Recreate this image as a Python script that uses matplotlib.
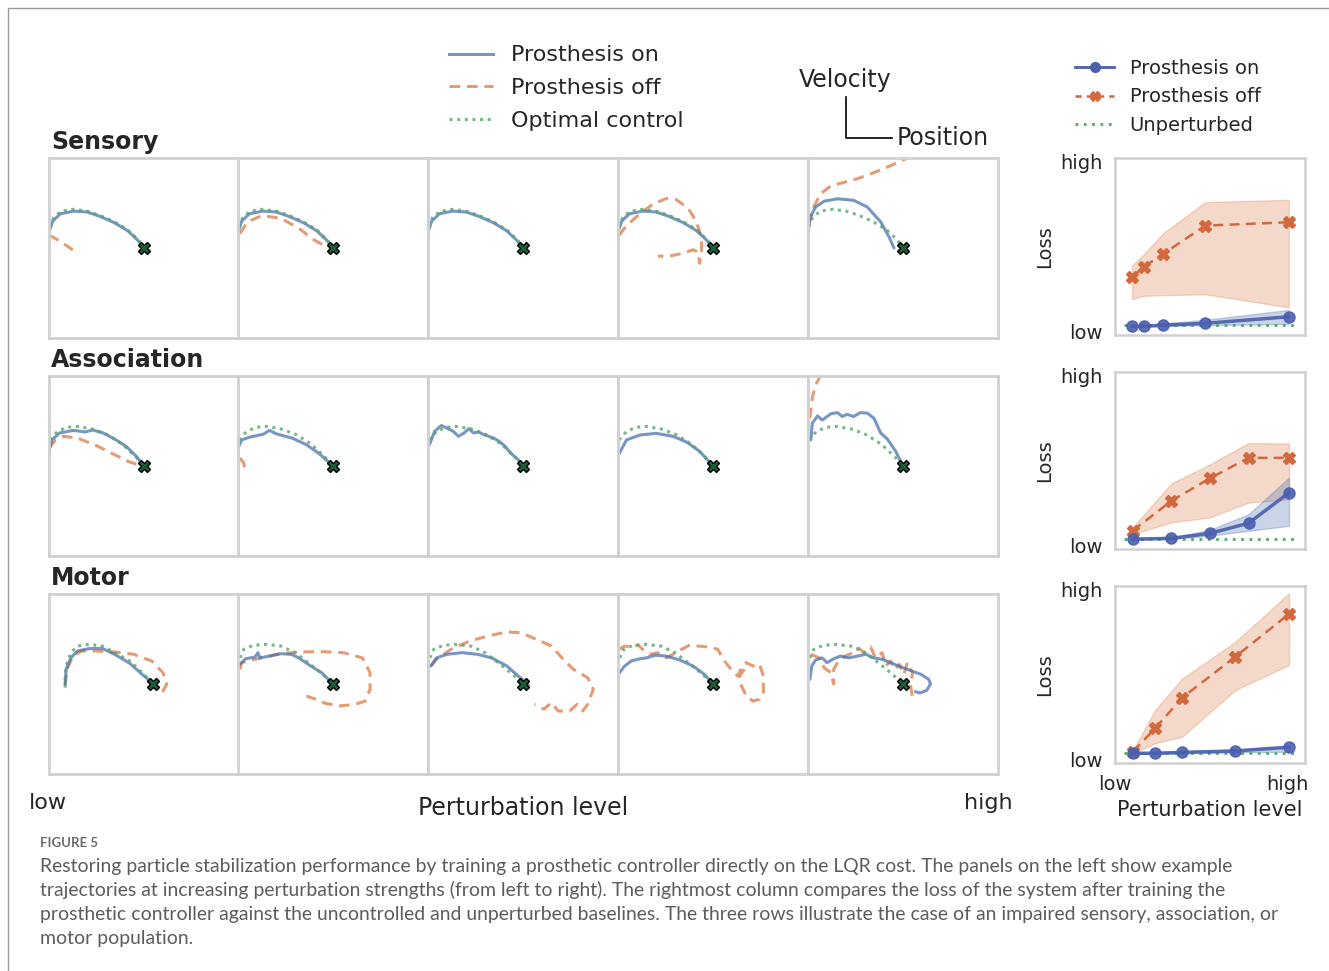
import matplotlib
matplotlib.use("Agg")
import matplotlib.pyplot as plt
from matplotlib.lines import Line2D

W, H, DPI = 1329, 971, 100

BLUE = "#4C72B0"
ORANGE = "#DD8452"
GREEN = "#55A868"
FRAME = "#d0d0d0"
INK = "#262626"

row_names = ["Sensory", "Association", "Motor"]

# ---- left panels: trajectories as (position, velocity), target marked with an X
sens_opt = [(-0.99, 0.23), (-0.95, 0.34), (-0.87, 0.41), (-0.74, 0.43), (-0.60, 0.41),
            (-0.46, 0.36), (-0.31, 0.29), (-0.17, 0.20), (-0.06, 0.09), (0.0, 0.0)]
sens_on = [(-1.00, 0.18), (-0.96, 0.30), (-0.88, 0.38), (-0.74, 0.41), (-0.60, 0.40),
           (-0.46, 0.35), (-0.31, 0.28), (-0.17, 0.19), (-0.06, 0.08), (0.0, 0.0)]
sens_on_5 = [(-0.99, 0.26), (-0.98, 0.34), (-0.92, 0.455), (-0.83, 0.52), (-0.69, 0.547),
             (-0.52, 0.53), (-0.375, 0.455), (-0.235, 0.29), (-0.147, 0.123), (-0.095, 0.0)]
sens_off_1 = [(-1.0, 0.14), (-0.93, 0.105), (-0.85, 0.05), (-0.75, -0.02)]
sens_off_2 = [(-0.98, 0.16), (-0.90, 0.29), (-0.75, 0.36), (-0.55, 0.33), (-0.36, 0.22),
              (-0.20, 0.09), (-0.08, 0.02), (0.0, 0.0)]
sens_off_4 = [(-0.99, 0.14), (-0.91, 0.25), (-0.77, 0.38), (-0.63, 0.49), (-0.49, 0.55),
              (-0.39, 0.54), (-0.26, 0.44), (-0.175, 0.29), (-0.12, 0.12), (-0.12, -0.02),
              (-0.14, -0.17), (-0.16, -0.04), (-0.21, -0.02), (-0.32, -0.06), (-0.46, -0.09),
              (-0.58, -0.09)]
sens_off_5 = [(-0.99, 0.26), (-0.94, 0.455), (-0.87, 0.60), (-0.76, 0.69), (-0.62, 0.73),
              (-0.48, 0.77), (-0.30, 0.84), (-0.13, 0.915), (0.045, 1.0), (0.19, 1.08)]

assoc_opt = [(-0.99, 0.29), (-0.91, 0.385), (-0.81, 0.43), (-0.70, 0.44), (-0.54, 0.41),
             (-0.39, 0.35), (-0.23, 0.244), (-0.09, 0.107), (0.0, 0.0)]
assoc_on_1 = [(-1.0, 0.163), (-0.97, 0.29), (-0.89, 0.367), (-0.74, 0.396), (-0.62, 0.378),
              (-0.54, 0.40), (-0.43, 0.367), (-0.31, 0.30), (-0.19, 0.22), (-0.08, 0.107),
              (0.0, 0.0)]
assoc_on_2 = [(-1.0, 0.2), (-0.96, 0.29), (-0.88, 0.32), (-0.79, 0.34), (-0.73, 0.355),
              (-0.67, 0.396), (-0.59, 0.355), (-0.43, 0.31), (-0.28, 0.237), (-0.14, 0.133),
              (0.0, 0.0)]
assoc_on_3 = [(-0.985, 0.237), (-0.93, 0.385), (-0.86, 0.45), (-0.80, 0.42), (-0.74, 0.39),
              (-0.68, 0.33), (-0.62, 0.367), (-0.57, 0.415), (-0.52, 0.367), (-0.47, 0.378),
              (-0.41, 0.348), (-0.31, 0.31), (-0.25, 0.274), (-0.19, 0.22), (-0.13, 0.144),
              (-0.05, 0.07), (0.0, 0.0)]
assoc_on_4 = [(-0.99, 0.133), (-0.91, 0.29), (-0.77, 0.344), (-0.60, 0.363), (-0.42, 0.33),
              (-0.28, 0.267), (-0.14, 0.163), (0.0, 0.0)]
assoc_on_5 = [(-0.97, 0.29), (-0.955, 0.474), (-0.90, 0.556), (-0.85, 0.51), (-0.76, 0.58),
              (-0.69, 0.593), (-0.64, 0.55), (-0.59, 0.574), (-0.52, 0.55), (-0.45, 0.593),
              (-0.375, 0.587), (-0.305, 0.53), (-0.235, 0.367), (-0.165, 0.30),
              (-0.077, 0.163), (-0.007, 0.015)]
assoc_off_1 = [(-1.0, 0.2), (-0.93, 0.29), (-0.85, 0.33), (-0.70, 0.31), (-0.50, 0.226),
               (-0.31, 0.126), (-0.15, 0.044), (-0.04, 0.007), (0.0, 0.0)]
assoc_off_2 = [(-0.98, 0.089), (-0.94, 0.033), (-0.93, -0.022), (-0.98, -0.059)]
assoc_off_5 = [(-0.98, 0.53), (-0.955, 0.755), (-0.92, 0.90), (-0.87, 1.0), (-0.83, 1.07)]

motor_opt_1 = [(-0.83, -0.04), (-0.83, 0.052), (-0.82, 0.2), (-0.77, 0.348), (-0.70, 0.422),
               (-0.58, 0.44), (-0.44, 0.422), (-0.31, 0.348), (-0.15, 0.256), (-0.02, 0.126),
               (0.095, 0.0)]
motor_opt = [(-0.98, 0.29), (-0.94, 0.385), (-0.84, 0.43), (-0.71, 0.44), (-0.55, 0.422),
             (-0.40, 0.348), (-0.24, 0.22), (-0.11, 0.107), (0.0, 0.0)]
motor_on_1 = [(-0.83, 0.0), (-0.82, 0.163), (-0.77, 0.29), (-0.70, 0.367), (-0.58, 0.393),
              (-0.44, 0.396), (-0.31, 0.33), (-0.15, 0.23), (-0.02, 0.107), (0.095, 0.007)]
motor_on_2 = [(-0.98, 0.22), (-0.92, 0.28), (-0.82, 0.30), (-0.79, 0.348), (-0.77, 0.29),
              (-0.67, 0.31), (-0.55, 0.337), (-0.44, 0.33), (-0.36, 0.29), (-0.24, 0.204),
              (-0.12, 0.126), (0.0, 0.0)]
motor_on_3 = [(-0.97, 0.2), (-0.91, 0.29), (-0.80, 0.33), (-0.64, 0.348), (-0.48, 0.33),
              (-0.33, 0.29), (-0.17, 0.2), (-0.05, 0.089), (0.06, -0.015), (0.0, 0.0)]
motor_on_4 = [(-0.99, 0.118), (-0.93, 0.2), (-0.86, 0.256), (-0.77, 0.28), (-0.70, 0.29),
              (-0.61, 0.32), (-0.49, 0.31), (-0.35, 0.267), (-0.21, 0.2), (-0.09, 0.107),
              (0.0, 0.0)]
motor_on_5 = [(-0.98, 0.052), (-0.96, 0.2), (-0.92, 0.267), (-0.85, 0.29), (-0.80, 0.237),
              (-0.73, 0.28), (-0.66, 0.31), (-0.57, 0.29), (-0.48, 0.31), (-0.39, 0.33),
              (-0.31, 0.29), (-0.22, 0.274), (-0.095, 0.22), (0.045, 0.163), (0.19, 0.107),
              (0.27, 0.052), (0.29, 0.0), (0.25, -0.07), (0.18, -0.10), (0.13, -0.085)]
motor_off_1 = [(-0.83, -0.02), (-0.81, 0.163), (-0.75, 0.31), (-0.66, 0.367), (-0.50, 0.367),
               (-0.31, 0.356), (-0.11, 0.33), (0.08, 0.256), (0.20, 0.126), (0.24, 0.0),
               (0.20, -0.078), (0.10, -0.04)]
motor_off_2 = [(-0.98, 0.163), (-0.96, 0.237), (-0.82, 0.274), (-0.59, 0.33), (-0.36, 0.356),
               (-0.12, 0.359), (0.11, 0.348), (0.31, 0.29), (0.39, 0.126), (0.39, -0.06),
               (0.34, -0.19), (0.23, -0.226), (0.07, -0.244), (-0.08, -0.215),
               (-0.18, -0.17), (-0.28, -0.133)]
motor_off_3 = [(-0.97, 0.2), (-0.91, 0.274), (-0.76, 0.385), (-0.56, 0.478), (-0.37, 0.533),
               (-0.17, 0.578), (-0.02, 0.57), (0.14, 0.496), (0.30, 0.422), (0.41, 0.29),
               (0.53, 0.163), (0.68, 0.07), (0.74, -0.06), (0.68, -0.226), (0.63, -0.3),
               (0.57, -0.226), (0.49, -0.3), (0.37, -0.3), (0.30, -0.207), (0.22, -0.28),
               (0.12, -0.226)]
motor_off_4 = [(-0.99, 0.385), (-0.93, 0.422), (-0.86, 0.41), (-0.79, 0.433), (-0.74, 0.385),
               (-0.67, 0.33), (-0.58, 0.348), (-0.49, 0.29), (-0.42, 0.33), (-0.33, 0.385),
               (-0.25, 0.43), (-0.16, 0.422), (-0.04, 0.41), (0.05, 0.385), (0.12, 0.256),
               (0.19, 0.163), (0.26, 0.089), (0.30, 0.18), (0.35, 0.237), (0.42, 0.2),
               (0.49, 0.22), (0.53, 0.089), (0.53, -0.096), (0.49, -0.17), (0.42, -0.19),
               (0.35, -0.133), (0.30, -0.022), (0.28, 0.089), (0.33, 0.163)]
motor_off_5 = [(-0.97, 0.33), (-0.88, 0.29), (-0.83, 0.18), (-0.76, 0.126), (-0.73, 0.0),
               (-0.73, 0.163), (-0.68, 0.256), (-0.61, 0.31), (-0.52, 0.348), (-0.47, 0.40),
               (-0.41, 0.348), (-0.34, 0.41), (-0.29, 0.29), (-0.22, 0.348), (-0.18, 0.2),
               (-0.13, 0.256), (-0.08, 0.163), (-0.04, 0.22), (0.01, 0.107), (0.045, 0.237),
               (0.10, 0.126), (0.08, -0.022), (0.10, -0.15)]

trajectories = [
    [(sens_opt, sens_on, sens_off_1), (sens_opt, sens_on, sens_off_2), (sens_opt, sens_on, []),
     (sens_opt, sens_on, sens_off_4), (sens_opt, sens_on_5, sens_off_5)],
    [(assoc_opt, assoc_on_1, assoc_off_1), (assoc_opt, assoc_on_2, assoc_off_2),
     (assoc_opt, assoc_on_3, []), (assoc_opt, assoc_on_4, []), (assoc_opt, assoc_on_5, assoc_off_5)],
    [(motor_opt_1, motor_on_1, motor_off_1), (motor_opt, motor_on_2, motor_off_2),
     (motor_opt, motor_on_3, motor_off_3), (motor_opt, motor_on_4, motor_off_4),
     (motor_opt, motor_on_5, motor_off_5)],
]
targets = [[(0.0, 0.0)] * 5, [(0.0, 0.0)] * 5, [(0.095, 0.0)] + [(0.0, 0.0)] * 4]

# ---- right column: loss vs perturbation level (low..high scaled 0..1)
levels = [[0.09, 0.15, 0.255, 0.475, 0.915],
          [0.093, 0.297, 0.499, 0.703, 0.916],
          [0.095, 0.211, 0.354, 0.634, 0.916]]
loss_off = [[0.328, 0.384, 0.459, 0.618, 0.637],
            [0.103, 0.272, 0.399, 0.515, 0.515],
            [0.064, 0.196, 0.369, 0.601, 0.842]]
loss_off_hi = [[0.393, 0.455, 0.577, 0.751, 0.764],
               [0.122, 0.371, 0.478, 0.599, 0.596],
               [0.073, 0.299, 0.478, 0.685, 0.959]]
loss_off_lo = [[0.202, 0.221, 0.225, 0.230, 0.156],
               [0.084, 0.150, 0.178, 0.262, 0.281],
               [0.055, 0.111, 0.149, 0.412, 0.554]]
loss_on = [[0.049, 0.049, 0.056, 0.066, 0.103],
           [0.056, 0.060, 0.088, 0.146, 0.318],
           [0.055, 0.055, 0.060, 0.068, 0.089]]
loss_on_hi = [[0.052, 0.055, 0.065, 0.086, 0.142],
              [0.058, 0.066, 0.108, 0.197, 0.403],
              [0.058, 0.060, 0.066, 0.076, 0.100]]
loss_on_lo = [[0.046, 0.046, 0.050, 0.055, 0.062],
              [0.052, 0.056, 0.075, 0.103, 0.131],
              [0.052, 0.050, 0.054, 0.060, 0.064]]
loss_unperturbed = [0.056, 0.056, 0.058]
unperturbed_span = [0.047, 0.958]

caption_lines = [
    "Restoring particle stabilization performance by training a prosthetic controller directly on the LQR cost. The panels on the left show example",
    "trajectories at increasing perturbation strengths (from left to right). The rightmost column compares the loss of the system after training the",
    "prosthetic controller against the uncontrolled and unperturbed baselines. The three rows illustrate the case of an impaired sensory, association, or",
    "motor population.",
]


def px_axes(fig, x0, y0, w, h):
    # pixel box (top-left origin) -> figure axes
    return fig.add_axes([x0 / W, 1 - (y0 + h) / H, w / W, h / H])


def fy(y):
    return 1 - y / H


fig = plt.figure(figsize=(W / DPI, H / DPI), dpi=DPI)
fig.patch.set_facecolor("white")

col_x = [49, 238, 428, 618, 808]
row_y = [158, 376, 594]
right_y = [158, 372, 586]

for r in range(3):
    fig.text(51 / W, fy(row_y[r] - 9), row_names[r], fontsize=17, fontweight="bold",
             color=INK, va="baseline", ha="left")
    for c in range(5):
        ax = px_axes(fig, col_x[c], row_y[r], 190, 180)
        opt, on, off = trajectories[r][c]
        if off:
            px, vy = zip(*off)
            ax.plot(px, vy, color=ORANGE, lw=2.2, ls=(0, (3.5, 2.2)), alpha=0.8)
        px, vy = zip(*on)
        ax.plot(px, vy, color=BLUE, lw=2.2, alpha=0.75, solid_capstyle="round")
        px, vy = zip(*opt)
        ax.plot(px, vy, color=GREEN, lw=2.2, ls=(0, (1, 1.5)), alpha=0.8)
        tx, ty = targets[r][c]
        ax.plot([tx], [ty], marker="X", ms=8, mfc="#1d5c38", mec="black", mew=1, ls="none")
        ax.set_xlim(-1, 1)
        ax.set_ylim(-1, 1)
        ax.set_xticks([])
        ax.set_yticks([])
        for s in ax.spines.values():
            s.set_color(FRAME)
            s.set_linewidth(2)

    # right column
    ax = px_axes(fig, 1115, right_y[r], 190, 177)
    x = levels[r]
    ax.fill_between(x, loss_off_lo[r], loss_off_hi[r], color=ORANGE, alpha=0.3, lw=1)
    ax.fill_between(x, loss_on_lo[r], loss_on_hi[r], color=BLUE, alpha=0.3, lw=1)
    ax.plot(unperturbed_span, [loss_unperturbed[r]] * 2, color=GREEN, lw=2, ls=(0, (1, 2)))
    ax.plot(x, loss_off[r], color="#D2693E", lw=1.8, ls=(0, (4, 2.5)), marker="X", ms=8,
            mec="#D2693E")
    ax.plot(x, loss_on[r], color="#4a5fae", lw=2.5, marker="o", ms=8, alpha=0.9)
    ax.set_xlim(0, 1)
    ax.set_ylim(0, 1)
    ax.set_yticks([0.02, 0.98], ["low", "high"])
    if r == 2:
        ax.set_xticks([0.0, 0.91], ["low", "high"])
        ax.set_xlabel("Perturbation level", fontsize=15, color=INK, labelpad=4)
    else:
        ax.set_xticks([])
    ax.tick_params(length=0, pad=9, labelsize=14, labelcolor=INK)
    ax.set_ylabel("Loss", fontsize=14, color=INK, labelpad=4)
    for s in ax.spines.values():
        s.set_color(FRAME)
        s.set_linewidth(1.8)

# bottom labels of the trajectory grid
fig.text(48 / W, fy(809), "low", fontsize=16, color=INK, ha="center", va="baseline")
fig.text(523 / W, fy(815), "Perturbation level", fontsize=17, color=INK, ha="center",
         va="baseline")
fig.text(988 / W, fy(809), "high", fontsize=16, color=INK, ha="center", va="baseline")

# legend of the trajectory panels
traj_handles = [Line2D([], [], color=BLUE, lw=2.2, alpha=0.75),
                Line2D([], [], color=ORANGE, lw=2.2, ls=(0, (3.5, 2.2)), alpha=0.8),
                Line2D([], [], color=GREEN, lw=2.2, ls=(0, (1, 1.5)), alpha=0.8)]
fig.legend(traj_handles, ["Prosthesis on", "Prosthesis off", "Optimal control"],
           loc="center", bbox_to_anchor=(566 / W, fy(88)), frameon=False, fontsize=16,
           handlelength=2.0, handletextpad=0.8, labelspacing=0.57, labelcolor=INK)

# legend of the loss panels
loss_handles = [Line2D([], [], color="#4a5fae", lw=2, marker="o", ms=7),
                Line2D([], [], color="#D2693E", lw=1.8, ls=(0, (2.5, 2)), marker="X", ms=7),
                Line2D([], [], color=GREEN, lw=2, ls=(0, (1, 2)))]
fig.legend(loss_handles, ["Prosthesis on", "Prosthesis off", "Unperturbed"],
           loc="center", bbox_to_anchor=(1168 / W, fy(97)), frameon=False, fontsize=14,
           handlelength=2.0, handletextpad=0.8, labelspacing=0.5, labelcolor=INK)

# velocity / position orientation key
fig.add_artist(Line2D([846 / W, 846 / W, 892 / W], [fy(97), fy(138), fy(138)],
                      color="black", lw=1.2))
fig.text(845 / W, fy(80), "Velocity", fontsize=17, color=INK, ha="center", va="center")
fig.text(897 / W, fy(138), "Position", fontsize=17, color=INK, ha="left", va="center")

# page frame and caption
fig.add_artist(Line2D([8 / W, 8 / W, 1 - 0.5 / W], [0, fy(8), fy(8)], color="#9a9a9a", lw=1))
fig.text(40 / W, fy(843), "FIGURE 5", fontsize=9.5, color="#6a6a6a", fontweight="bold",
         family="Lato", ha="left", va="center")
cap = [fig.text(40 / W, fy(866 + 24 * i), line, fontsize=12, color="#5c5c5c", family="Lato",
                ha="left", va="center") for i, line in enumerate(caption_lines)]
renderer = fig.canvas.get_renderer()
width = cap[0].get_window_extent(renderer).width
for t in cap:
    t.set_fontsize(12 * 1188 / width)

fig.savefig("out.png", dpi=DPI)
